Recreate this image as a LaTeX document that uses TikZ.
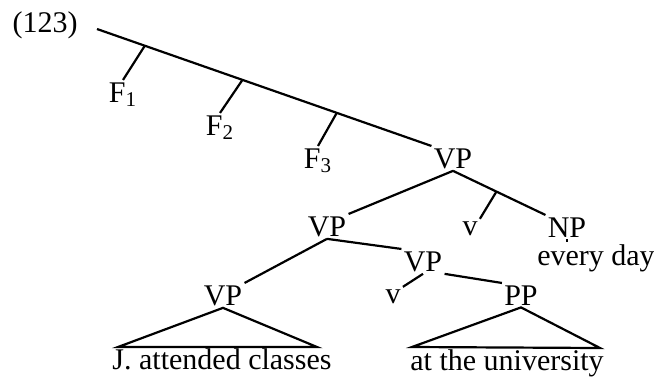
\documentclass[tikz,border=0pt]{standalone}
\usepackage{fontspec}
\setmainfont{Liberation Serif}
\usetikzlibrary{calc}

\begin{document}
\begin{tikzpicture}[x=0.5pt,y=-0.5pt,
cat/.style={anchor=base,inner sep=1pt,font=\fontsize{15}{18}\selectfont},
leaf/.style={cat},
link/.style={line width=1.1pt,draw=black}]
\useasboundingbox (0,0) rectangle (654,376);
\node[cat] (num) at (45,32) {(123)};
\node[cat] (f1) at (123,102) {F\textsubscript{1}};
\node[cat] (f2) at (220,135) {F\textsubscript{2}};
\node[cat] (f3) at (318,168) {F\textsubscript{3}};
\node[cat] (vp0) at (453,168) {VP};
\node[cat] (vp1) at (327,236) {VP};
\node[cat] (v1) at (470,235) {v};
\node[cat] (np) at (567,237) {NP};
\node[leaf] (day) at (596,265) {every day};
\node[cat] (vp2) at (423,271) {VP};
\node[cat] (v2) at (393,303) {v};
\node[cat] (vp3) at (223,305) {VP};
\node[cat] (pp) at (521,305) {PP};
\node[leaf] (jtext) at (222,369) {J. attended classes};
\node[leaf] (utext) at (507,370) {at the university};
\coordinate (root) at (97,29);
\coordinate (j1) at ($(root)!0.143!(vp0.north west)$);
\coordinate (j2) at ($(root)!0.435!(vp0.north west)$);
\coordinate (j3) at ($(root)!0.717!(vp0.north west)$);
\coordinate (jv) at ($(vp0.south)!0.47!(np.north west)$);
\coordinate (jl) at (118,347);
\coordinate (jr) at (317,347);
\coordinate (ul) at (412,347);
\coordinate (ur) at (600,348);
\draw[link] (root)--(vp0.north west);
\draw[link] (j1)--(f1.north);
\draw[link] (j2)--(f2.north);
\draw[link] (j3)--(f3.north);
\draw[link] (vp0.south)--(vp1.north east);
\draw[link] (vp0.south)--(np.north west);
\draw[link] (jv)--(v1.north east);
\draw[link] (np.south)--(np.south |- day.north);
\draw[link] (vp1.south)--(vp3.north east);
\draw[link] (vp1.south)--(vp2.north west);
\draw[link] (vp2.south)--(v2.north east);
\draw[link] (vp2.south east)--(pp.north west);
\draw[link] (vp3.south)--(jl)--(jr)--cycle;
\draw[link] (pp.south)--(ul)--(ur)--cycle;
\end{tikzpicture}
\end{document}
